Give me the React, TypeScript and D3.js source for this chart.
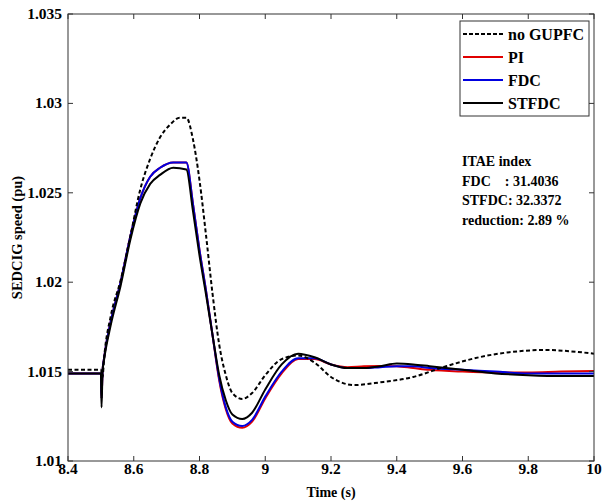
import React from "react";
import * as d3 from "d3";

const xTicks = [8.4, 8.6, 8.8, 9, 9.2, 9.4, 9.6, 9.8, 10];
const yTicks = [1.01, 1.015, 1.02, 1.025, 1.03, 1.035];

const tNo = [8.4, 8.5, 8.505, 8.51, 8.53, 8.56, 8.59, 8.62, 8.65, 8.68, 8.71, 8.74, 8.76, 8.78, 8.8, 8.82, 8.84, 8.86, 8.88, 8.9, 8.93, 8.96, 9.0, 9.05, 9.1, 9.15, 9.2, 9.27, 9.35, 9.45, 9.55, 9.65, 9.75, 9.85, 9.95, 10];
const vNo = [1.0151, 1.0151, 1.0147, 1.0158, 1.0181, 1.0201, 1.0226, 1.0252, 1.0269, 1.0281, 1.0288, 1.0292, 1.0292, 1.028, 1.0257, 1.0226, 1.0193, 1.0165, 1.0148, 1.0138, 1.01347, 1.0138, 1.0148, 1.0157, 1.0159, 1.0155, 1.0147, 1.01425, 1.0144, 1.0147, 1.0153, 1.0158, 1.0161, 1.01621, 1.0161, 1.016];

const tSol = [8.4, 8.5, 8.502, 8.505, 8.51, 8.53, 8.56, 8.59, 8.62, 8.65, 8.68, 8.72, 8.76, 8.78, 8.8, 8.82, 8.84, 8.86, 8.88, 8.9, 8.93, 8.96, 9.0, 9.05, 9.1, 9.15, 9.2, 9.25, 9.3, 9.35, 9.4, 9.45, 9.5, 9.6, 9.7, 9.8, 9.9, 10];
const vPI = [1.0149, 1.0149, 1.0135, 1.015, 1.0158, 1.0178, 1.02, 1.0226, 1.0247, 1.0259, 1.0264, 1.0267, 1.0267, 1.0244, 1.0218, 1.0195, 1.017, 1.0145, 1.0129, 1.0121, 1.01186, 1.0122, 1.0135, 1.0149, 1.0157, 1.0157, 1.0154, 1.01525, 1.0153, 1.01532, 1.0153, 1.0152, 1.0151, 1.015, 1.01495, 1.01495, 1.015, 1.01503];
const vFDC = [1.0149, 1.0149, 1.0135, 1.015, 1.0158, 1.0178, 1.02, 1.0226, 1.0247, 1.0259, 1.0264, 1.0267, 1.0267, 1.0244, 1.0218, 1.0195, 1.017, 1.0146, 1.013, 1.0122, 1.01196, 1.0123, 1.0136, 1.015, 1.01575, 1.01575, 1.0154, 1.0152, 1.0152, 1.01525, 1.0153, 1.0153, 1.0152, 1.0151, 1.015, 1.0149, 1.0149, 1.0149];
const vST = [1.0149, 1.0149, 1.013, 1.015, 1.0157, 1.0176, 1.0198, 1.0224, 1.0244, 1.0255, 1.0260, 1.0264, 1.0263, 1.024, 1.0215, 1.0193, 1.017, 1.0148, 1.0134, 1.0126, 1.01235, 1.0127, 1.014, 1.0154, 1.016, 1.0158, 1.0154, 1.0152, 1.0152, 1.0153, 1.01545, 1.0154, 1.0153, 1.0151, 1.0149, 1.0148, 1.01475, 1.01475];

const legendLabels = ["no GUPFC", "PI", "FDC", "STFDC"];
const legendColors = ["#000", "#e00000", "#0000e0", "#000"];
const legendDash = ["4,2", "", "", ""];
const noteLines = ["ITAE index", "FDC    : 31.4036", "STFDC: 32.3372", "reduction: 2.89 %"];

const W = 605, H = 504;
const L = 68, R = 594, T = 14, B = 461;

export default function App() {
  const x = d3.scaleLinear().domain([8.4, 10]).range([L, R]);
  const y = d3.scaleLinear().domain([1.01, 1.035]).range([B, T]);
  const line = (ts: number[], vs: number[]) =>
    d3.line<number>().x((_, i) => x(ts[i])).y((v) => y(v)).curve(d3.curveMonotoneX)(vs) || "";
  const font = "'Liberation Serif', 'Times New Roman', serif";
  const series = [
    { d: line(tSol, vPI), c: legendColors[1], dash: "" },
    { d: line(tSol, vFDC), c: legendColors[2], dash: "" },
    { d: line(tSol, vST), c: legendColors[3], dash: "" },
    { d: line(tNo, vNo), c: legendColors[0], dash: "4,2.5" },
  ];
  return (
    <svg width={W} height={H} style={{ position: "absolute", left: 0, top: 0, background: "#fff" }} fontFamily={font} fontWeight="bold">
      <rect x={0} y={0} width={W} height={H} fill="#fff" />
      <defs>
        <clipPath id="plot"><rect x={L} y={T} width={R - L} height={B - T} /></clipPath>
      </defs>
      <g clipPath="url(#plot)">
        {series.map((s, i) => (
          <path key={i} d={s.d} fill="none" stroke={s.c} strokeWidth={2} strokeDasharray={s.dash || undefined} />
        ))}
      </g>
      <rect x={L} y={T} width={R - L} height={B - T} fill="none" stroke="#333" strokeWidth={1} />
      {xTicks.map((t) => (
        <g key={"x" + t}>
          <line x1={x(t)} x2={x(t)} y1={B} y2={B - 5} stroke="#333" />
          <line x1={x(t)} x2={x(t)} y1={T} y2={T + 5} stroke="#333" />
          <text x={x(t)} y={474} textAnchor="middle" fontSize={15.5}>{String(t)}</text>
        </g>
      ))}
      {yTicks.map((v) => (
        <g key={"y" + v}>
          <line x1={L} x2={L + 5} y1={y(v)} y2={y(v)} stroke="#333" />
          <line x1={R} x2={R - 5} y1={y(v)} y2={y(v)} stroke="#333" />
          <text x={62} y={y(v) + 5} textAnchor="end" fontSize={15.5}>{String(v)}</text>
        </g>
      ))}
      <text x={331} y={497} textAnchor="middle" fontSize={14}>Time (s)</text>
      <text transform={`translate(22,${(T + B) / 2}) rotate(-90)`} textAnchor="middle" fontSize={14.5}>SEDCIG speed (pu)</text>
      <rect x={460} y={21} width={129} height={95} fill="#fff" stroke="#333" strokeWidth={1} />
      {legendLabels.map((lab, i) => (
        <g key={lab}>
          <line x1={463} x2={503} y1={34 + i * 23} y2={34 + i * 23} stroke={legendColors[i]} strokeWidth={1.8} strokeDasharray={legendDash[i] || undefined} />
          <text x={508} y={39.5 + i * 23} fontSize={16}>{lab}</text>
        </g>
      ))}
      {noteLines.map((s, i) => (
        <text key={i} x={462} y={166 + i * 19.5} fontSize={14} style={{ whiteSpace: "pre" }}>{s}</text>
      ))}
    </svg>
  );
}
